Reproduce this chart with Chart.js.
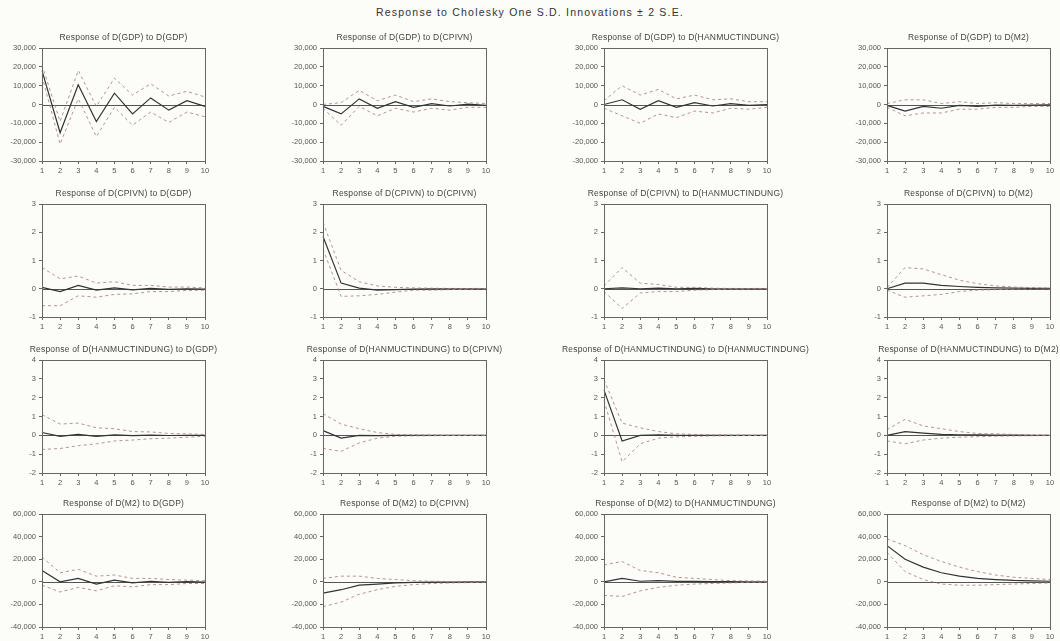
<!DOCTYPE html>
<html><head><meta charset="utf-8">
<script src="https://cdn.jsdelivr.net/npm/chart.js@4.4.1/dist/chart.umd.min.js"></script>
<style>
body{margin:0;background:#fcfcf9;width:1060px;height:641px;overflow:hidden;position:relative;font-family:"Liberation Sans",Arial,sans-serif;}
#main{position:absolute;top:6px;left:0;width:1060px;text-align:center;font-size:10.5px;letter-spacing:1.2px;color:#333;}
.ttl{position:absolute;font-size:8.5px;letter-spacing:0.2px;color:#444;text-align:center;white-space:nowrap;}
canvas{position:absolute;}
</style></head><body>
<div id="main">Response to Cholesky One S.D. Innovations ± 2 S.E.</div>
<script>
// Forecast horizon
const periods = ['1','2','3','4','5','6','7','8','9','10'];
const variables = ['D(GDP)', 'D(CPIVN)', 'D(HANMUCTINDUNG)', 'D(M2)'];

// Axis ranges per response variable (rows)
const yMin  = [-30000, -1, -2, -40000];
const yMax  = [30000, 3, 4, 60000];
const yStep = [10000, 1, 1, 20000];

// Response of D(GDP)
const gdp_gdp    = [18000, -15000, 10500, -9000, 6000, -5000, 3500, -3000, 2000, -1000];
const gdp_gdp_up = [21000, -9000, 18000, -1000, 14000, 5000, 11000, 4500, 7000, 4000];
const gdp_gdp_lo = [15000, -21000, 3000, -17000, -1500, -11000, -4000, -9500, -4000, -6500];
const gdp_cpi    = [-1000, -5000, 3000, -2000, 1500, -1500, 500, -800, 200, -500];
const gdp_cpi_up = [0, 1000, 7500, 2000, 5000, 1500, 3000, 1500, 1000, 500];
const gdp_cpi_lo = [-2000, -11000, -1000, -6000, -2000, -4000, -2000, -3000, -1500, -1500];
const gdp_han    = [0, 2500, -2500, 2000, -1500, 1000, -800, 500, -500, 0];
const gdp_han_up = [2000, 10000, 5000, 8000, 3000, 5000, 2500, 3000, 1500, 1500];
const gdp_han_lo = [-2000, -6000, -10000, -5000, -7000, -3500, -4500, -2000, -2500, -1500];
const gdp_m2     = [-500, -3500, -1000, -2000, -500, -1000, -300, -500, -300, -200];
const gdp_m2_up  = [500, 2500, 2500, 500, 1500, 500, 1000, 500, 500, 500];
const gdp_m2_lo  = [-1500, -6000, -4500, -4500, -2500, -2500, -1500, -1500, -1000, -1000];

// Response of D(CPIVN)
const cpi_gdp    = [0.05, -0.1, 0.12, -0.05, 0.03, -0.04, 0.01, -0.02, 0, -0.01];
const cpi_gdp_up = [0.75, 0.35, 0.45, 0.2, 0.25, 0.12, 0.12, 0.06, 0.06, 0.03];
const cpi_gdp_lo = [-0.6, -0.6, -0.25, -0.3, -0.2, -0.18, -0.1, -0.1, -0.06, -0.05];
const cpi_cpi    = [1.85, 0.2, 0.02, -0.05, -0.03, -0.01, 0, 0, 0, 0];
const cpi_cpi_up = [2.35, 0.65, 0.25, 0.1, 0.05, 0.03, 0.02, 0.01, 0.01, 0.01];
const cpi_cpi_lo = [1.4, -0.27, -0.25, -0.2, -0.12, -0.05, -0.05, -0.03, -0.02, -0.01];
const cpi_han    = [0, 0.03, 0, 0.02, 0, 0.01, 0, 0, 0, 0];
const cpi_han_up = [0.1, 0.75, 0.2, 0.15, 0.05, 0.05, 0.02, 0.01, 0.01, 0.01];
const cpi_han_lo = [-0.1, -0.7, -0.15, -0.1, -0.1, -0.05, -0.03, -0.02, -0.01, -0.01];
const cpi_m2     = [0, 0.2, 0.2, 0.12, 0.08, 0.05, 0.03, 0.02, 0.01, 0.01];
const cpi_m2_up  = [0.05, 0.75, 0.7, 0.5, 0.3, 0.18, 0.1, 0.06, 0.04, 0.02];
const cpi_m2_lo  = [-0.05, -0.3, -0.25, -0.2, -0.1, -0.05, -0.03, -0.02, -0.01, -0.01];

// Response of D(HANMUCTINDUNG)
const han_gdp    = [0.15, -0.05, 0.05, -0.05, 0.02, -0.02, 0.01, -0.01, 0, 0];
const han_gdp_up = [1.1, 0.6, 0.65, 0.4, 0.35, 0.2, 0.18, 0.1, 0.08, 0.05];
const han_gdp_lo = [-0.75, -0.7, -0.55, -0.45, -0.3, -0.25, -0.18, -0.15, -0.1, -0.05];
const han_cpi    = [0.25, -0.15, 0, -0.02, 0, 0, 0, 0, 0, 0];
const han_cpi_up = [1.15, 0.6, 0.35, 0.15, 0.05, 0.03, 0.02, 0.01, 0.01, 0.01];
const han_cpi_lo = [-0.7, -0.85, -0.4, -0.15, -0.05, -0.03, -0.02, -0.01, -0.01, -0.01];
const han_han    = [2.4, -0.3, 0, 0.02, 0, 0, 0, 0, 0, 0];
const han_han_up = [2.95, 0.65, 0.4, 0.2, 0.08, 0.05, 0.03, 0.02, 0.01, 0.01];
const han_han_lo = [1.85, -1.4, -0.45, -0.15, -0.08, -0.05, -0.03, -0.02, -0.01, -0.01];
const han_m2     = [0, 0.2, 0.12, 0.05, 0.03, 0.02, 0.01, 0.01, 0, 0];
const han_m2_up  = [0.3, 0.85, 0.5, 0.35, 0.2, 0.1, 0.08, 0.05, 0.03, 0.02];
const han_m2_lo  = [-0.3, -0.45, -0.25, -0.15, -0.1, -0.07, -0.05, -0.03, -0.02, -0.01];

// Response of D(M2)
const m2_gdp     = [10000, 0, 3000, -2000, 1500, -1000, 500, -500, 200, -200];
const m2_gdp_up  = [22000, 8000, 11000, 5000, 6000, 3000, 3000, 2000, 1500, 1000];
const m2_gdp_lo  = [-3000, -9000, -5000, -8000, -3500, -4500, -2500, -2500, -1500, -1500];
const m2_cpi     = [-10000, -7000, -3000, -2000, -1000, -500, -300, -200, -100, -100];
const m2_cpi_up  = [3000, 5000, 5000, 3000, 2000, 1000, 500, 300, 200, 100];
const m2_cpi_lo  = [-22000, -18000, -11000, -7000, -4000, -2500, -1500, -1000, -700, -500];
const m2_han     = [0, 3000, 500, 1000, 300, 300, 100, 100, 0, 0];
const m2_han_up  = [15000, 18000, 10000, 8000, 4000, 3000, 2000, 1000, 800, 500];
const m2_han_lo  = [-12000, -13000, -8000, -5000, -3000, -2000, -1500, -1000, -500, -500];
const m2_m2      = [32000, 20000, 13000, 8000, 5000, 3000, 2000, 1200, 800, 500];
const m2_m2_up   = [38000, 32000, 24000, 18000, 13000, 9000, 6000, 4000, 3000, 2000];
const m2_m2_lo   = [26000, 9000, 2000, -2000, -3000, -3000, -2500, -2000, -1500, -1000];

const responses = [
  [[gdp_gdp, gdp_gdp_up, gdp_gdp_lo], [gdp_cpi, gdp_cpi_up, gdp_cpi_lo], [gdp_han, gdp_han_up, gdp_han_lo], [gdp_m2, gdp_m2_up, gdp_m2_lo]],
  [[cpi_gdp, cpi_gdp_up, cpi_gdp_lo], [cpi_cpi, cpi_cpi_up, cpi_cpi_lo], [cpi_han, cpi_han_up, cpi_han_lo], [cpi_m2, cpi_m2_up, cpi_m2_lo]],
  [[han_gdp, han_gdp_up, han_gdp_lo], [han_cpi, han_cpi_up, han_cpi_lo], [han_han, han_han_up, han_han_lo], [han_m2, han_m2_up, han_m2_lo]],
  [[m2_gdp, m2_gdp_up, m2_gdp_lo], [m2_cpi, m2_cpi_up, m2_cpi_lo], [m2_han, m2_han_up, m2_han_lo], [m2_m2, m2_m2_up, m2_m2_lo]]
];

// Panel geometry (plot-area edges)
const plotLeft  = [42, 323, 604, 887];
const plotWidth = 163;
const plotTop   = [48, 204, 360, 514];
const plotHeight = 113;
const axisW = 42, axisH = 15, padTop = 8, padRight = 7;

// Frame around the plot area plus the zero reference line
const framePlugin = {
  id: 'frame',
  beforeDatasetsDraw(chart) {
    const {ctx, chartArea: a, scales} = chart;
    ctx.save();
    const y0 = Math.round(scales.y.getPixelForValue(0)) + 0.5;
    ctx.strokeStyle = '#555';
    ctx.lineWidth = 1;
    ctx.beginPath();
    ctx.moveTo(a.left, y0); ctx.lineTo(a.right, y0);
    ctx.stroke();
    ctx.restore();
  },
  afterDraw(chart) {
    const {ctx, chartArea: a} = chart;
    ctx.save();
    ctx.strokeStyle = '#666';
    ctx.lineWidth = 1;
    ctx.strokeRect(Math.round(a.left) + 0.5, Math.round(a.top) + 0.5,
                   Math.round(a.right - a.left), Math.round(a.bottom - a.top));
    ctx.restore();
  }
};

const fmt = v => (Math.abs(v) >= 1000 ? v.toLocaleString('en-US') : String(v));

for (let r = 0; r < 4; r++) {
  for (let c = 0; c < 4; c++) {
    const [mid, up, lo] = responses[r][c];
    const left = plotLeft[c] - axisW;
    const top = plotTop[r] - padTop;
    const cv = document.createElement('canvas');
    const w = axisW + plotWidth + padRight;
    const h = padTop + plotHeight + axisH;
    cv.width = w; cv.height = h;
    cv.style.left = left + 'px'; cv.style.top = top + 'px';
    cv.style.width = w + 'px'; cv.style.height = h + 'px';
    document.body.appendChild(cv);

    const t = document.createElement('div');
    t.className = 'ttl';
    t.textContent = 'Response of ' + variables[r] + ' to ' + variables[c];
    t.style.left = (plotLeft[c] - 60) + 'px';
    t.style.width = (plotWidth + 120) + 'px';
    t.style.top = (plotTop[r] - 16) + 'px';
    document.body.appendChild(t);

    new Chart(cv, {
      type: 'line',
      data: {
        labels: periods,
        datasets: [
          { data: up, borderColor: 'rgba(165,130,130,0.85)', borderWidth: 1, borderDash: [3, 3], pointRadius: 0, tension: 0 },
          { data: lo, borderColor: 'rgba(165,130,130,0.85)', borderWidth: 1, borderDash: [3, 3], pointRadius: 0, tension: 0 },
          { data: mid, borderColor: '#333', borderWidth: 1.2, pointRadius: 0, tension: 0 }
        ]
      },
      options: {
        responsive: false,
        animation: false,
        devicePixelRatio: 1,
        layout: { padding: { top: padTop, right: padRight, left: 0, bottom: 0 } },
        plugins: { legend: { display: false }, tooltip: { enabled: false } },
        scales: {
          x: {
            offset: false,
            afterFit: s => { s.height = axisH; },
            grid: { drawOnChartArea: false, drawTicks: true, tickLength: 3, color: '#666' },
            border: { display: true, color: '#666' },
            ticks: { font: { size: 7.5, family: 'Liberation Sans' }, color: '#555', padding: 2, maxRotation: 0, autoSkip: false }
          },
          y: {
            min: yMin[r], max: yMax[r],
            afterFit: s => { s.width = axisW; },
            grid: { drawOnChartArea: false, drawTicks: true, tickLength: 3, color: '#666' },
            border: { display: true, color: '#666' },
            ticks: { stepSize: yStep[r], font: { size: 7.5, family: 'Liberation Sans' }, color: '#555', padding: 3, callback: v => fmt(v) }
          }
        }
      },
      plugins: [framePlugin]
    });
  }
}
</script>
</body></html>
